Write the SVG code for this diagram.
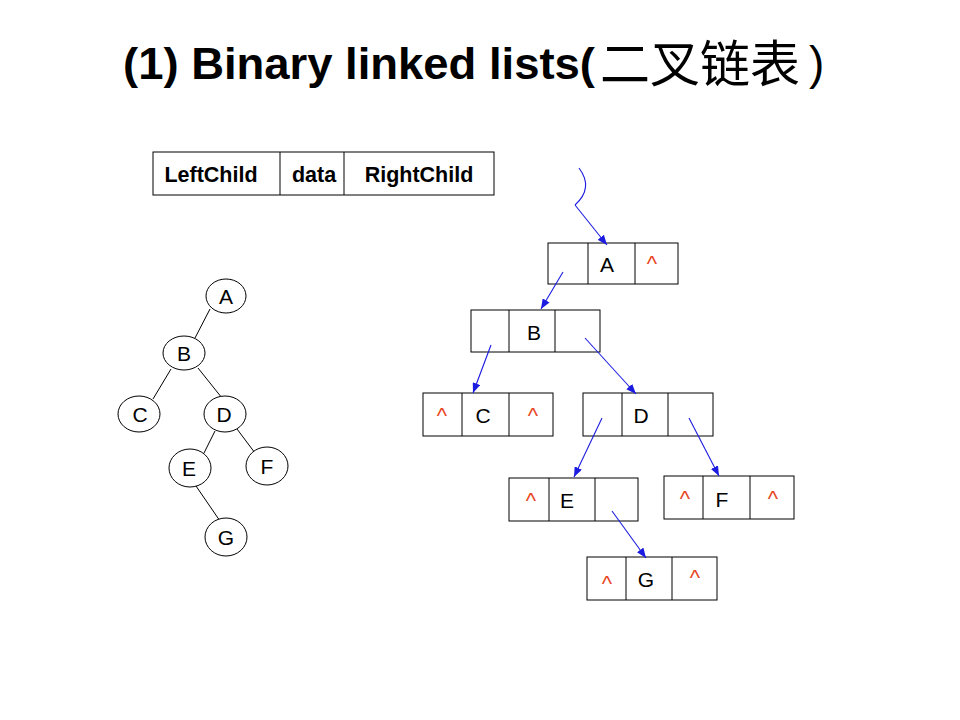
<svg xmlns="http://www.w3.org/2000/svg" width="960" height="720" viewBox="0 0 960 720">
<defs>
<style>
.box{fill:#fff;stroke:#000;stroke-width:1}
.div{stroke:#000;stroke-width:1}
.lbl{font-family:"Liberation Sans",Arial,sans-serif;font-size:21px;fill:#000;text-anchor:middle}
.hdr{font-family:"Liberation Sans",Arial,sans-serif;font-size:21.5px;font-weight:bold;fill:#000;text-anchor:middle}
.nil{font-family:"Liberation Sans",Arial,sans-serif;font-size:22px;fill:#e8461e;text-anchor:middle}
.ell{fill:#fff;stroke:#000;stroke-width:1}
.edge{stroke:#000;stroke-width:1;fill:none}
.ptr{stroke:#1c1ce0;stroke-width:1.1;fill:none;marker-end:url(#ah)}
</style>
<marker id="ah" markerUnits="userSpaceOnUse" markerWidth="10" markerHeight="8" refX="10" refY="4" orient="auto">
<path d="M0,0 L10,4 L0,8 z" fill="#1c1ce0"/>
</marker>
</defs>
<rect width="960" height="720" fill="#fff"/>

<g id="title">
<text x="123" y="79" font-family="'Liberation Sans',Arial,sans-serif" font-size="45" font-weight="bold" textLength="472" lengthAdjust="spacingAndGlyphs">(1) Binary linked lists(</text>
<text x="600" y="82" font-family="'Noto Sans CJK SC',sans-serif" font-size="50">二叉链表</text>
<text x="809" y="79" font-family="'Liberation Sans',Arial,sans-serif" font-size="46">)</text>
</g>

<g id="header">
<rect class="box" x="153" y="152" width="341" height="43"/>
<line class="div" x1="280" y1="152" x2="280" y2="195"/>
<line class="div" x1="344" y1="152" x2="344" y2="195"/>
<text class="hdr" x="211" y="182">LeftChild</text>
<text class="hdr" x="314" y="182">data</text>
<text class="hdr" x="419" y="182">RightChild</text>
</g>

<g id="tree-edges">
<line class="edge" x1="210" y1="309" x2="195" y2="338"/>
<line class="edge" x1="171" y1="369" x2="153" y2="399"/>
<line class="edge" x1="198" y1="368" x2="222" y2="398"/>
<line class="edge" x1="215" y1="431" x2="204" y2="453"/>
<line class="edge" x1="237" y1="429" x2="255" y2="453"/>
<line class="edge" x1="196" y1="486" x2="220" y2="521"/>
</g>
<g id="tA"><ellipse class="ell" cx="226" cy="296" rx="20" ry="17"/><text class="lbl" x="226" y="304">A</text></g>
<g id="tB"><ellipse class="ell" cx="184" cy="353" rx="21" ry="17"/><text class="lbl" x="184" y="361">B</text></g>
<g id="tC"><ellipse class="ell" cx="139" cy="414" rx="21" ry="18"/><text class="lbl" x="140" y="422">C</text></g>
<g id="tD"><ellipse class="ell" cx="225" cy="414" rx="21" ry="18"/><text class="lbl" x="224" y="422">D</text></g>
<g id="tE"><ellipse class="ell" cx="190" cy="468" rx="21" ry="19"/><text class="lbl" x="189" y="476">E</text></g>
<g id="tF"><ellipse class="ell" cx="267" cy="466" rx="21" ry="19"/><text class="lbl" x="267" y="474">F</text></g>
<g id="tG"><ellipse class="ell" cx="226" cy="537" rx="21" ry="19"/><text class="lbl" x="226" y="545">G</text></g>

<g id="nA">
<rect class="box" x="548" y="243" width="130" height="41"/>
<line class="div" x1="588" y1="243" x2="588" y2="284"/>
<line class="div" x1="635" y1="243" x2="635" y2="284"/>
<text class="lbl" x="607" y="272">A</text>
<text class="nil" x="652" y="271">^</text>
</g>
<g id="nB">
<rect class="box" x="471" y="310" width="129" height="42"/>
<line class="div" x1="509" y1="310" x2="509" y2="352"/>
<line class="div" x1="555" y1="310" x2="555" y2="352"/>
<text class="lbl" x="534" y="340">B</text>
</g>
<g id="nC">
<rect class="box" x="423" y="393" width="130" height="43"/>
<line class="div" x1="462" y1="393" x2="462" y2="436"/>
<line class="div" x1="509" y1="393" x2="509" y2="436"/>
<text class="nil" x="442" y="423">^</text>
<text class="lbl" x="483" y="423">C</text>
<text class="nil" x="533" y="423">^</text>
</g>
<g id="nD">
<rect class="box" x="583" y="393" width="130" height="43"/>
<line class="div" x1="622" y1="393" x2="622" y2="436"/>
<line class="div" x1="668" y1="393" x2="668" y2="436"/>
<text class="lbl" x="641" y="423">D</text>
</g>
<g id="nE">
<rect class="box" x="509" y="478" width="129" height="43"/>
<line class="div" x1="549" y1="478" x2="549" y2="521"/>
<line class="div" x1="595" y1="478" x2="595" y2="521"/>
<text class="nil" x="531" y="508">^</text>
<text class="lbl" x="567" y="508">E</text>
</g>
<g id="nF">
<rect class="box" x="664" y="476" width="130" height="43"/>
<line class="div" x1="703" y1="476" x2="703" y2="519"/>
<line class="div" x1="750" y1="476" x2="750" y2="519"/>
<text class="nil" x="685" y="506">^</text>
<text class="lbl" x="722" y="507">F</text>
<text class="nil" x="773" y="506">^</text>
</g>
<g id="nG">
<rect class="box" x="587" y="557" width="130" height="43"/>
<line class="div" x1="626" y1="557" x2="626" y2="600"/>
<line class="div" x1="672" y1="557" x2="672" y2="600"/>
<text class="nil" x="607" y="591">^</text>
<text class="lbl" x="646" y="587">G</text>
<text class="nil" x="695" y="585">^</text>
</g>

<g id="connectors">
<path d="M579,168 Q594,188 575,205" stroke="#1c1ce0" stroke-width="1.1" fill="none"/>
<line class="ptr" x1="575" y1="205" x2="607" y2="245"/>
<line class="ptr" x1="563" y1="272" x2="541" y2="309"/>
<line class="ptr" x1="491" y1="345" x2="473" y2="393"/>
<line class="ptr" x1="585" y1="338" x2="636" y2="394"/>
<line class="ptr" x1="602" y1="418" x2="574" y2="477"/>
<line class="ptr" x1="689" y1="418" x2="719" y2="476"/>
<line class="ptr" x1="612" y1="511" x2="646" y2="558"/>
</g>
</svg>
